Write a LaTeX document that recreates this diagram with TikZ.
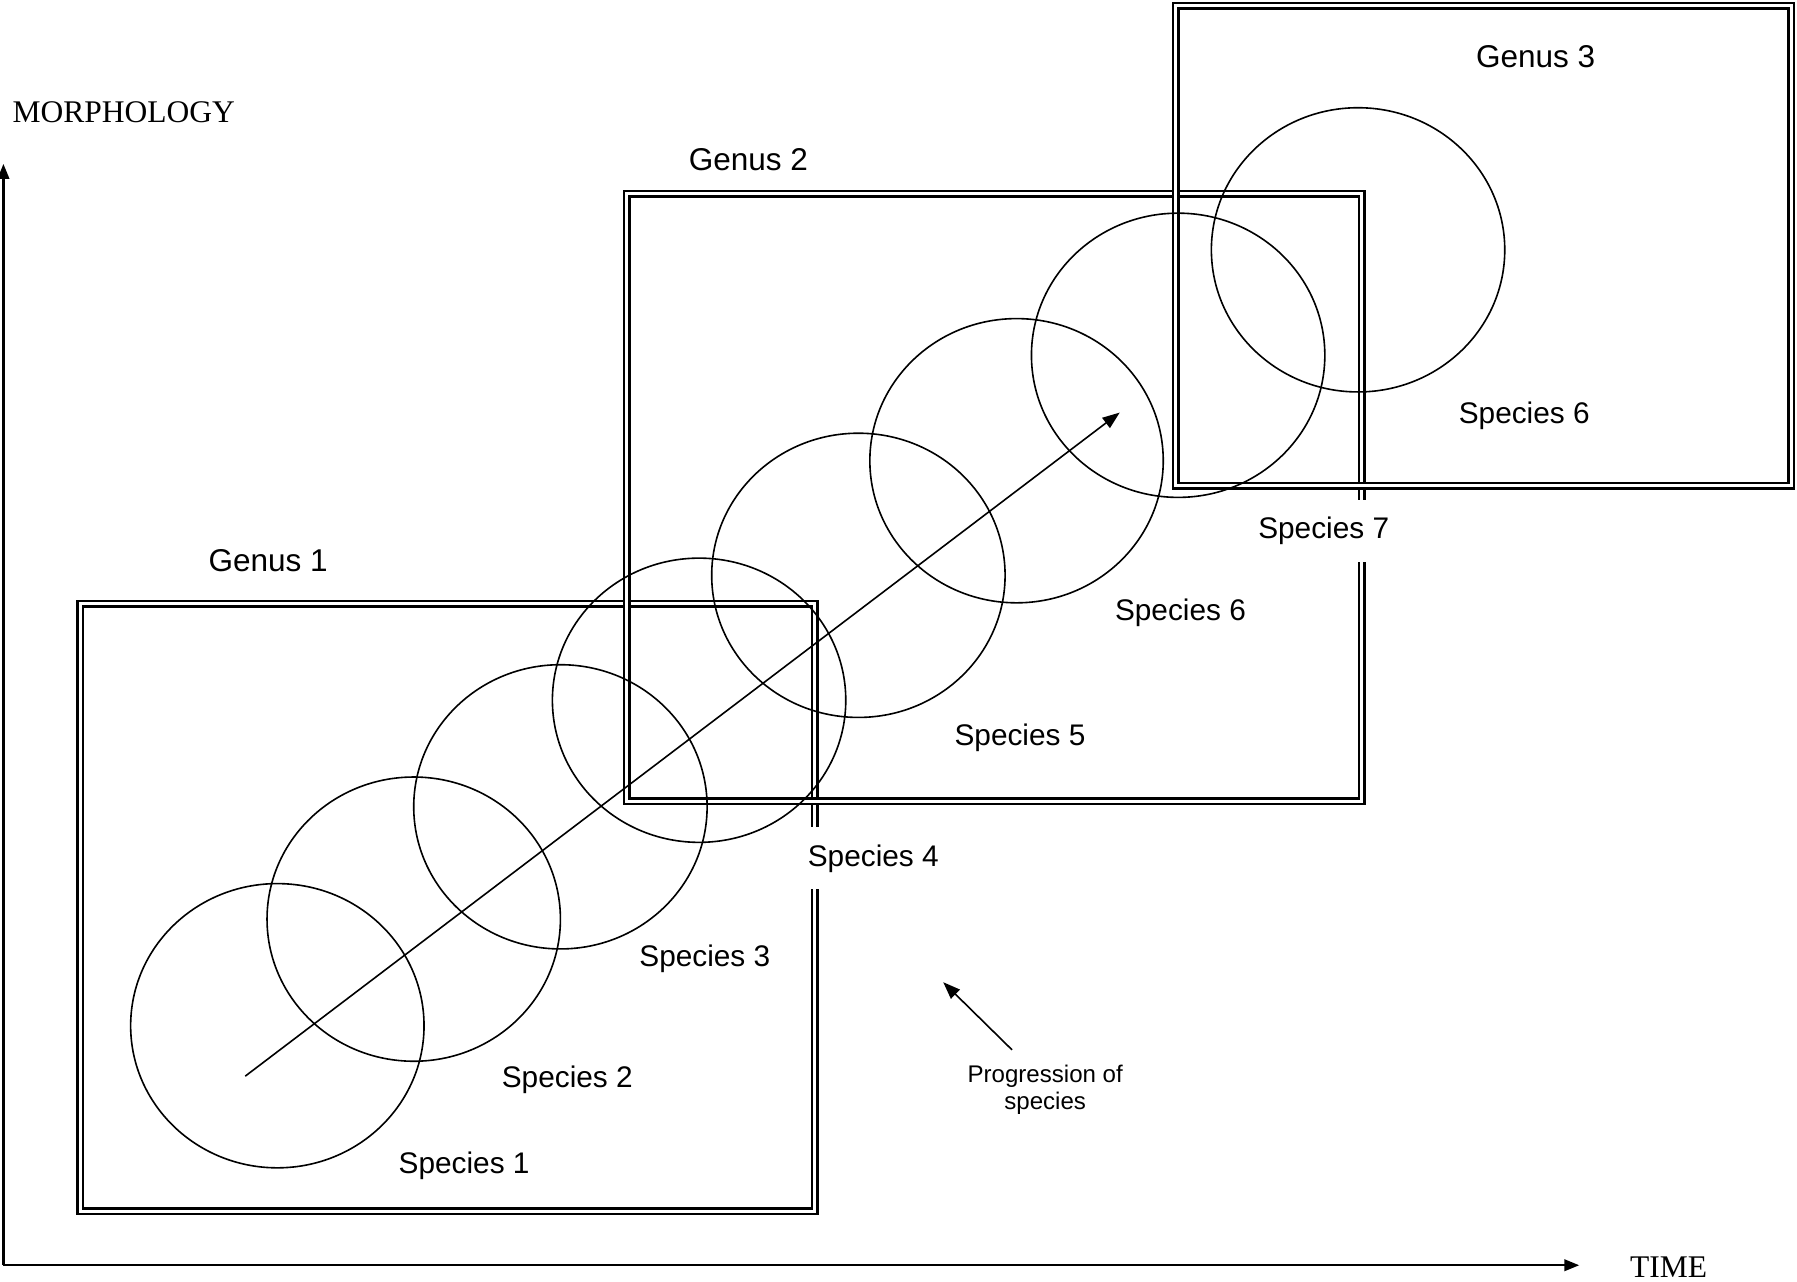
\documentclass[tikz,border=0pt]{standalone}
\usepackage{fontspec}
\setmainfont{Liberation Serif}
\setsansfont{Liberation Sans}
\usetikzlibrary{arrows.meta}
\tikzset{
  genus/.style={double, double distance=2.6pt, line width=2.2pt},
  species/.style={line width=1.4pt},
  lbl/.style={font=\sffamily\fontsize{26}{30}\selectfont, inner sep=0pt},
  glbl/.style={font=\sffamily\fontsize{27.5}{30}\selectfont, inner sep=0pt},
  gap/.style={lbl, fill=white, inner xsep=4pt, inner ysep=15pt},
  note/.style={font=\sffamily\fontsize{21}{24}\selectfont, align=center, inner sep=0pt},
  axislbl/.style={font=\fontsize{27.5}{30}\selectfont, inner sep=0pt},
  axis/.style={line width=2pt, -{Triangle[length=13pt,width=10pt]}},
  trend/.style={line width=1.4pt, -{Triangle[length=15pt,width=11pt]}},
}

\begin{document}
\begin{tikzpicture}[x=1pt, y=-1pt]
			%%%%% START %%%%%
			\useasboundingbox (0,0) rectangle (1568,1118);
			
			\draw[genus] (70,527) rectangle (711,1057);
			\draw[genus] (547,169) rectangle (1188,699);
			\draw[genus] (1026,5) rectangle (1563,424);
			
			\draw[species] (242,895) ellipse (128pt and 124pt);
			\draw[species] (361,802) ellipse (128pt and 124pt);
			\draw[species] (489,704) ellipse (128pt and 124pt);
			\draw[species] (610,611) ellipse (128pt and 124pt);
			\draw[species] (749,502) ellipse (128pt and 124pt);
			\draw[species] (887,402) ellipse (128pt and 124pt);
			\draw[species] (1028,310) ellipse (128pt and 124pt);
			\draw[species] (1185,218) ellipse (128pt and 124pt);
			
			\node[glbl] (g1) at (234,489) {Genus 1};
			\node[glbl] (g2) at (653,139) {Genus 2};
			\node[glbl] (g3) at (1340,49) {Genus 3};
			
			\node[lbl] (s1) at (405,1017) {Species 1};
			\node[lbl] (s2) at (495,942) {Species 2};
			\node[lbl] (s3) at (615,837) {Species 3};
			\node[gap] (s4) at (762,749) {Species 4};
			\node[lbl] (s5) at (890,644) {Species 5};
			\node[lbl] (s6) at (1030,535) {Species 6};
			\node[gap] (s7) at (1155,463) {Species 7};
			\node[lbl] (s6b) at (1330,363) {Species 6};
			
			\coordinate (a0) at (214,939);
			\coordinate (a1) at (977,360);
			\draw[trend] (a0) -- (a1);
			
			\coordinate (p0) at (883,916);
			\coordinate (p1) at (823,857);
			\draw[trend] (p0) -- (p1);
			\node[note] (prog) at (912,951) {Progression of\\species};
			
			\coordinate (o) at (3,1104);
			\coordinate (mtop) at (3,143);
			\coordinate (tend) at (1378,1104);
			\draw[axis] (o) -- (mtop);
			\draw[axis] (o) -- (tend);
			\node[axislbl] (morph) at (108,98) {MORPHOLOGY};
			\node[axislbl] (time) at (1456,1106) {TIME};
			
			%%%%% END %%%%%
\end{tikzpicture}
\end{document}
